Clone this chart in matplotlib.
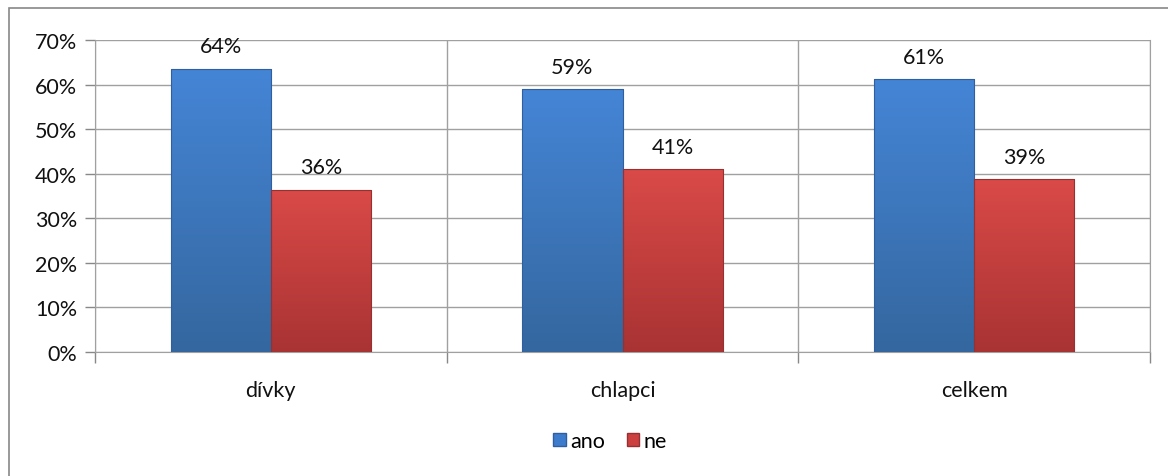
import matplotlib.pyplot as plt
import numpy as np
from matplotlib.colors import LinearSegmentedColormap
from matplotlib.patches import Rectangle

categories = ["dívky", "chlapci", "celkem"]
ano = [0.636, 0.59, 0.612]
ne = [0.364, 0.41, 0.388]
ano_labels = ["64%", "59%", "61%"]
ne_labels = ["36%", "41%", "39%"]
yticks = [0, 0.1, 0.2, 0.3, 0.4, 0.5, 0.6, 0.7]

plt.rcParams["font.family"] = ["Lato", "DejaVu Sans"]
fs = 15.5

fig = plt.figure(figsize=(11.68, 4.77), dpi=100)
fig.patches.append(Rectangle((9 / 1168, -0.01), 1.02, 1 - 9 / 477 + 0.01,
                             transform=fig.transFigure, fill=False,
                             edgecolor="#888888", lw=1.2))
ax = fig.add_axes([95 / 1168, 1 - 353 / 477, (1150 - 95) / 1168, (353 - 41) / 477])

x = np.arange(len(categories))
w = 0.285
b1 = ax.bar(x - w / 2, ano, w, color="#3d7ccc", edgecolor="#2f5f9e", lw=0.6, label="ano", zorder=3)
b2 = ax.bar(x + w / 2, ne, w, color="#cc4040", edgecolor="#973030", lw=0.6, label="ne", zorder=3)

# vertical shading like the office-style bars
grad = np.linspace(0, 1, 100).reshape(-1, 1)
for bars, c_top, c_bot in [(b1, "#4585d6", "#34679f"), (b2, "#d94a48", "#a93333")]:
    cmap = LinearSegmentedColormap.from_list("g", [c_bot, c_top])
    for r in bars:
        x0, y0 = r.get_x(), r.get_y()
        im = ax.imshow(grad, cmap=cmap, aspect="auto", origin="lower",
                       extent=(x0, x0 + r.get_width(), y0, y0 + r.get_height()), zorder=3.5)
        im.set_clip_path(r)
        ax.add_patch(Rectangle((x0, y0), r.get_width(), r.get_height(), fill=False,
                               edgecolor=r.get_edgecolor(), lw=0.8, zorder=4))

for i in range(len(categories)):
    ax.text(x[i] - w / 2, ano[i] + 0.028, ano_labels[i], ha="center", va="bottom", fontsize=fs, color="#111111", zorder=5)
    ax.text(x[i] + w / 2, ne[i] + 0.028, ne_labels[i], ha="center", va="bottom", fontsize=fs, color="#111111", zorder=5)

ax.set_xlim(-0.5, 2.5)
ax.set_ylim(0, 0.7)
ax.set_yticks(yticks)
ax.set_yticklabels([f"{int(round(t * 100))}%" for t in yticks], fontsize=fs, color="#111111")
ax.set_xticks([-0.5, 0.5, 1.5, 2.5])
ax.set_xticklabels([])
ax.set_xticks(x, minor=True)
ax.set_xticklabels(categories, minor=True, fontsize=fs, color="#111111")
ax.tick_params(axis="x", which="minor", length=0, pad=20)
ax.tick_params(axis="x", which="major", length=8, color="#888888", width=1)
ax.tick_params(axis="y", length=7, color="#888888", width=1, pad=6)
ax.grid(axis="y", color="#a0a0a0", lw=1, zorder=0)
ax.grid(axis="x", which="major", color="#a0a0a0", lw=1, zorder=0)
ax.spines["top"].set_visible(False)
for s in ["left", "bottom", "right"]:
    ax.spines[s].set_color("#a0a0a0")

h1 = Rectangle((0, 0), 1, 1, facecolor="#3d7ccc", edgecolor="#2f5f9e")
h2 = Rectangle((0, 0), 1, 1, facecolor="#cc4040", edgecolor="#973030")
fig.legend([h1, h2], ["ano", "ne"], loc="center", bbox_to_anchor=(610 / 1168, 1 - 442 / 477),
           ncol=2, frameon=False, fontsize=fs, handlelength=0.6, handleheight=0.6,
           handletextpad=0.2, columnspacing=1.0)

fig.savefig("out.png", dpi=100)
